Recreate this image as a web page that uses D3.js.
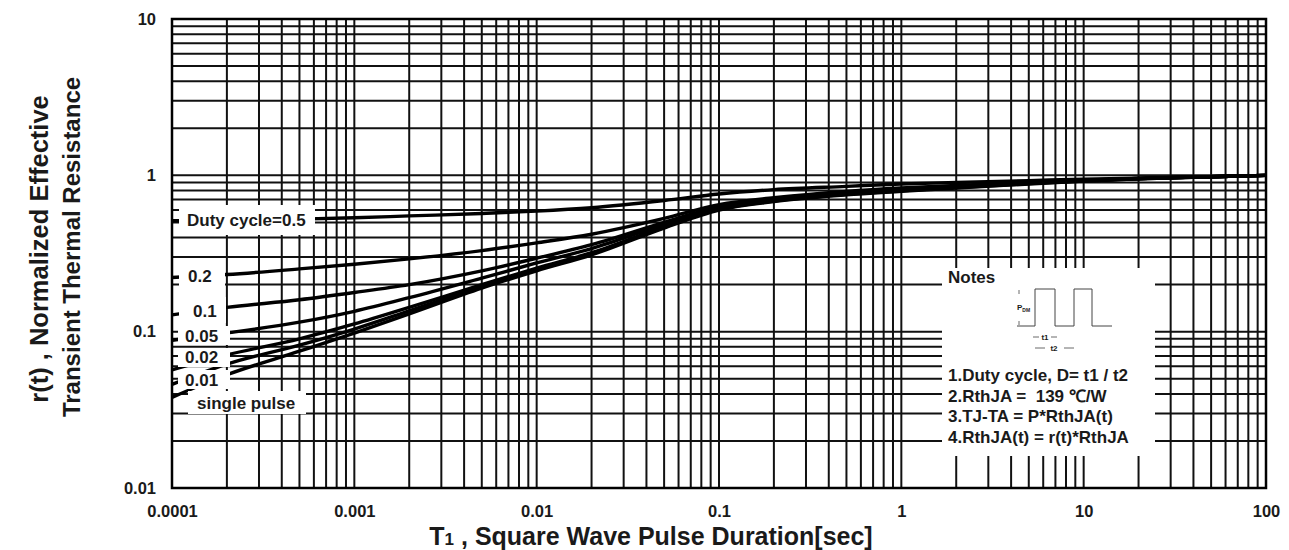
<!DOCTYPE html>
<meta charset="utf-8">
<head>
<style>
body { margin: 0; background-color: #fff; }
svg text { font-family: "Liberation Sans", Arial, sans-serif; font-weight: bold; fill: #1a1a1a; white-space: pre; }
</style>
</head>

<script src="https://d3js.org/d3.v7.min.js"></script>

<div id="chart"></div>

<script>

// pulse durations (sec) where the curves were read
var pulseTimes = [1e-4, 2e-4, 5e-4, 1e-3, 2e-3, 5e-3, 0.01, 0.02, 0.05, 0.1, 0.2, 0.5, 1, 2, 5, 10, 20, 50, 100];

// r(t) for each duty cycle
var duty05  = [0.512, 0.515, 0.525, 0.535, 0.55, 0.57, 0.59, 0.62, 0.69, 0.76, 0.81, 0.85, 0.88, 0.9, 0.925, 0.945, 0.96, 0.98, 1.0];
var duty02  = [0.222, 0.232, 0.252, 0.27, 0.292, 0.33, 0.37, 0.42, 0.53, 0.65, 0.72, 0.79, 0.83, 0.86, 0.9, 0.93, 0.955, 0.98, 1.0];
var duty01  = [0.128, 0.143, 0.16, 0.178, 0.2, 0.245, 0.295, 0.36, 0.5, 0.63, 0.71, 0.78, 0.82, 0.85, 0.895, 0.93, 0.955, 0.98, 1.0];
var duty005 = [0.088, 0.098, 0.115, 0.135, 0.165, 0.22, 0.275, 0.34, 0.485, 0.62, 0.7, 0.77, 0.81, 0.845, 0.89, 0.925, 0.955, 0.98, 1.0];
var duty002 = [0.057, 0.071, 0.09, 0.112, 0.143, 0.2, 0.255, 0.32, 0.47, 0.61, 0.69, 0.76, 0.8, 0.84, 0.89, 0.925, 0.952, 0.98, 1.0];
var duty001 = [0.046, 0.062, 0.082, 0.104, 0.136, 0.195, 0.25, 0.315, 0.465, 0.605, 0.685, 0.755, 0.795, 0.835, 0.885, 0.92, 0.95, 0.98, 1.0];
var single  = [0.038, 0.053, 0.075, 0.098, 0.13, 0.19, 0.245, 0.31, 0.46, 0.6, 0.68, 0.75, 0.79, 0.83, 0.88, 0.92, 0.95, 0.98, 1.0];

var seriesNames = ["Duty cycle=0.5", "0.2", "0.1", "0.05", "0.02", "0.01", "single pulse"];
var seriesValues = [duty05, duty02, duty01, duty005, duty002, duty001, single];

var xTicks = [1e-4, 1e-3, 0.01, 0.1, 1, 10, 100];
var xTickLabels = ["0.0001", "0.001", "0.01", "0.1", "1", "10", "100"];
var yTicks = [0.01, 0.1, 1, 10];
var yTickLabels = ["0.01", "0.1", "1", "10"];

var notesLines = ["1.Duty cycle, D= t1 / t2", "2.RthJA =  139 \u2103/W", "3.TJ-TA = P*RthJA(t)", "4.RthJA(t) = r(t)*RthJA"];

// where the curve labels sit (white boxes over the grid)
var labelBoxes = [
  {x: 179, y: 205, w: 136, h: 30, tx: 187, ty: 226},
  {x: 179, y: 263, w: 46,  h: 27, tx: 188, ty: 282},
  {x: 179, y: 297, w: 47,  h: 26, tx: 193, ty: 317},
  {x: 178, y: 326, w: 52,  h: 19, tx: 185, ty: 342},
  {x: 178, y: 348, w: 52,  h: 19, tx: 185, ty: 363},
  {x: 178, y: 370, w: 52,  h: 19, tx: 185, ty: 386},
  {x: 188, y: 391, w: 118, h: 23, tx: 197, ty: 409}
];

var W = 1289, H = 550;
var plotL = 172, plotR = 1266, plotT = 19, plotB = 488;

var svg = d3.select("#chart")
  .append("svg")
    .attr("width", W)
    .attr("height", H);

svg.append("rect").attr("width", W).attr("height", H).attr("fill", "#fff");

var x = d3.scaleLog().domain([1e-4, 100]).range([plotL, plotR]);
var y = d3.scaleLog().domain([0.01, 10]).range([plotB, plotT]);

// grid
var grid = svg.append("g").attr("stroke", "#111").attr("stroke-width", 2);
grid.selectAll(".vx")
  .data(x.ticks())
  .enter().append("line")
    .attr("x1", function(d) { return x(d); })
    .attr("x2", function(d) { return x(d); })
    .attr("y1", plotT).attr("y2", plotB);
grid.selectAll(".hy")
  .data(y.ticks())
  .enter().append("line")
    .attr("y1", function(d) { return y(d); })
    .attr("y2", function(d) { return y(d); })
    .attr("x1", plotL).attr("x2", plotR);

// curves
var line = d3.line()
  .x(function(d) { return x(d[0]); })
  .y(function(d) { return y(d[1]); })
  .curve(d3.curveMonotoneX);

svg.append("g").selectAll("path")
  .data(seriesValues)
  .enter().append("path")
    .attr("fill", "none")
    .attr("stroke", "#000")
    .attr("stroke-width", 3.4)
    .attr("d", function(vals) { return line(pulseTimes.map(function(t, i) { return [t, vals[i]]; })); });

// curve labels
var lab = svg.append("g");
lab.selectAll("rect")
  .data(labelBoxes)
  .enter().append("rect")
    .attr("x", function(d) { return d.x; })
    .attr("y", function(d) { return d.y; })
    .attr("width", function(d) { return d.w; })
    .attr("height", function(d) { return d.h; })
    .attr("fill", "#fff");
lab.selectAll("text")
  .data(labelBoxes)
  .enter().append("text")
    .attr("x", function(d) { return d.tx; })
    .attr("y", function(d) { return d.ty; })
    .attr("font-size", "17px")
    .text(function(d, i) { return seriesNames[i]; });

// notes box
var nx = 942, ny = 268, nw = 213, nh = 188;
var notes = svg.append("g");
notes.append("rect")
  .attr("x", nx).attr("y", ny).attr("width", nw).attr("height", nh)
  .attr("fill", "#fff");
notes.append("text")
  .attr("x", nx + 6).attr("y", ny + 15)
  .attr("font-size", "17px")
  .text("Notes");

// pulse sketch
var px0 = nx + 75, pyTop = ny + 21, pyBot = ny + 58;
notes.append("path")
  .attr("fill", "none").attr("stroke", "#444").attr("stroke-width", 1)
  .attr("d", "M" + px0 + "," + pyBot + "H" + (px0 + 18) + "V" + pyTop + "H" + (px0 + 38) + "V" + pyBot +
             "H" + (px0 + 57) + "V" + pyTop + "H" + (px0 + 75) + "V" + pyBot + "H" + (px0 + 95));
notes.append("path")
  .attr("fill", "none").attr("stroke", "#444").attr("stroke-width", 0.8)
  .attr("d", "M" + (px0 + 2) + "," + (pyTop + 1) + "v4M" + (px0 + 2) + "," + (pyBot - 1) + "v-4" +
             "M" + (px0 + 16) + "," + (ny + 69) + "h6M" + (px0 + 34) + "," + (ny + 69) + "h6" +
             "M" + (px0 + 18) + "," + (ny + 80) + "h10M" + (px0 + 47) + "," + (ny + 80) + "h10");
notes.append("text")
  .attr("x", px0).attr("y", ny + 42)
  .attr("font-size", "8px").attr("font-weight", "normal")
  .text("P")
  .append("tspan").attr("font-size", "5px").attr("dy", 1.5).text("DM");
notes.append("text")
  .attr("x", px0 + 28).attr("y", ny + 72)
  .attr("font-size", "8px").attr("font-weight", "normal").attr("text-anchor", "middle")
  .text("t1");
notes.append("text")
  .attr("x", px0 + 37).attr("y", ny + 83)
  .attr("font-size", "8px").attr("font-weight", "normal").attr("text-anchor", "middle")
  .text("t2");

notes.selectAll(".note")
  .data(notesLines)
  .enter().append("text")
    .attr("x", nx + 6)
    .attr("y", function(d, i) { return ny + 113 + i * 20.7; })
    .attr("font-size", "17px")
    .text(function(d) { return d; });

// frame
svg.append("rect")
  .attr("x", plotL).attr("y", plotT)
  .attr("width", plotR - plotL).attr("height", plotB - plotT)
  .attr("fill", "none").attr("stroke", "#000").attr("stroke-width", 2.5);

// axes
var xAxis = svg.append("g")
  .attr("transform", "translate(0," + plotB + ")")
  .call(d3.axisBottom(x).tickValues(xTicks).tickSize(0).tickPadding(17)
    .tickFormat(function(d, i) { return xTickLabels[i]; }));
var yAxis = svg.append("g")
  .attr("transform", "translate(" + 159 + ",0)")
  .call(d3.axisLeft(y).tickValues(yTicks).tickSize(0).tickPadding(3)
    .tickFormat(function(d, i) { return yTickLabels[i]; }));
svg.selectAll(".domain").remove();
svg.selectAll(".tick text")
  .attr("font-size", "16.5px")
  .attr("font-family", "Liberation Sans, Arial, sans-serif")
  .attr("font-weight", "bold")
  .attr("fill", "#1a1a1a");

// axis titles
var xt = svg.append("text")
  .attr("x", 651).attr("y", 545)
  .attr("text-anchor", "middle")
  .attr("font-size", "25px");
xt.append("tspan").text("T");
xt.append("tspan").attr("font-size", "17px").text("1");
xt.append("tspan").text(" , Square Wave Pulse Duration[sec]");

svg.append("text")
  .attr("transform", "translate(48,249) rotate(-90)")
  .attr("text-anchor", "middle")
  .attr("font-size", "25.5px")
  .text("r(t) , Normalized Effective");
svg.append("text")
  .attr("transform", "translate(80,247) rotate(-90)")
  .attr("text-anchor", "middle")
  .attr("font-size", "24px")
  .text("Transient Thermal Resistance");

</script>
